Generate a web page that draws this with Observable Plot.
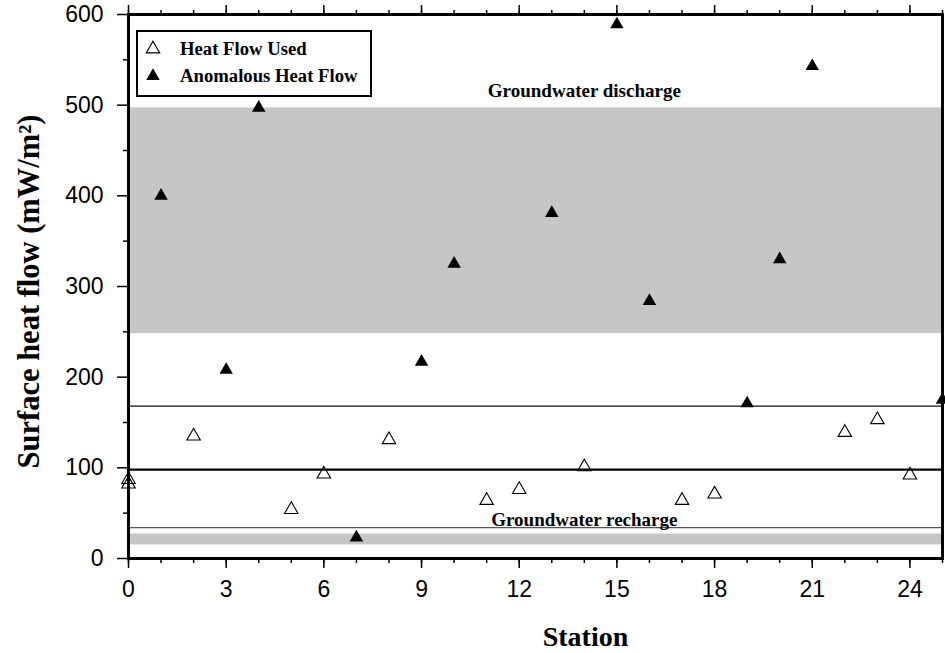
<!DOCTYPE html>
<html>
<head>
<meta charset="utf-8">
<script src="https://cdn.jsdelivr.net/npm/d3@7"></script>
<script src="https://cdn.jsdelivr.net/npm/@observablehq/plot@0.6"></script>
<style>
  html, body { margin: 0; padding: 0; background: #fff; overflow: hidden; }
</style>
</head>
<body>
<div id="chart"></div>
<script>
// Stations whose heat flow was used
const usedStation = [0, 0, 2, 5, 6, 8, 11, 12, 14, 17, 18, 22, 23, 24];
const usedFlow    = [87, 82, 135, 54, 93, 131, 64, 76, 101, 64, 71, 139, 153, 92];

// Stations with anomalous heat flow
const anomStation = [1, 3, 4, 7, 9, 10, 13, 15, 16, 19, 20, 21, 25];
const anomFlow    = [400, 208, 497, 23, 217, 325, 381, 589, 284, 171, 330, 543, 175];

// Shaded ranges (mW/m²)
const dischargeBand = [248, 497];
const rechargeBand  = [15, 27];

// Reference levels (mW/m²): upper bound, mean, lower bound
const upperLevel = 168;
const meanLevel  = 98;
const lowerLevel = 34;

// Axis ticks
const xTickLabels = [0, 3, 6, 9, 12, 15, 18, 21, 24];
const xMinorTicks = d3.range(0, 26, 1);
const yTickLabels = [0, 100, 200, 300, 400, 500, 600];
const yMinorTicks = [50, 150, 250, 350, 450, 550];

const used = usedStation.map((s, i) => ({station: s, flow: usedFlow[i]}));
const anom = anomStation.map((s, i) => ({station: s, flow: anomFlow[i]}));
const bands = [
  {y1: dischargeBand[0], y2: dischargeBand[1]},
  {y1: rechargeBand[0],  y2: rechargeBand[1]}
];

const serif = "'Liberation Serif', 'Times New Roman', serif";
const sans  = "'Liberation Sans', Helvetica, Arial, sans-serif";

const chart = Plot.plot({
  width: 945,
  height: 653,
  marginLeft: 128,
  marginRight: 3,
  marginTop: 14,
  marginBottom: 95,
  style: {fontFamily: sans, background: "#fff", overflow: "hidden"},
  x: {domain: [0, 25]},
  y: {domain: [0, 600]},
  marks: [
    Plot.rect(bands, {x1: 0, x2: 25, y1: "y1", y2: "y2", fill: "#c6c6c6"}),
    Plot.ruleY([upperLevel], {stroke: "#111", strokeWidth: 1.2}),
    Plot.ruleY([meanLevel],  {stroke: "#000", strokeWidth: 2.4}),
    Plot.ruleY([lowerLevel], {stroke: "#555", strokeWidth: 1.2}),
    Plot.text(["Groundwater discharge"], {x: 14, y: 516, text: d => d,
      fontFamily: serif, fontWeight: "bold", fontSize: 19, fill: "#000"}),
    Plot.text(["Groundwater recharge"], {x: 14, y: 43, text: d => d,
      fontFamily: serif, fontWeight: "bold", fontSize: 19, fill: "#000"}),
    Plot.dot(used, {x: "station", y: "flow", symbol: "triangle", r: 5,
      fill: "none", stroke: "#000", strokeWidth: 1.1}),
    Plot.dot(anom, {x: "station", y: "flow", symbol: "triangle", r: 5,
      fill: "#000", stroke: "none"}),
    // bottom axis: labelled major ticks and minor ticks
    Plot.axisX({anchor: "bottom", ticks: xTickLabels, tickSize: 10, tickPadding: 12,
      fontSize: 23, fontFamily: sans, strokeWidth: 1.5, label: null}),
    Plot.axisX({anchor: "bottom", ticks: xMinorTicks, tickSize: 5,
      tickFormat: () => "", strokeWidth: 1.5, label: null}),
    // top axis: ticks only
    Plot.axisX({anchor: "top", ticks: xTickLabels, tickSize: 10,
      tickFormat: () => "", strokeWidth: 1.5, label: null}),
    Plot.axisX({anchor: "top", ticks: xMinorTicks, tickSize: 5,
      tickFormat: () => "", strokeWidth: 1.5, label: null}),
    // left axis
    Plot.axisY({anchor: "left", ticks: yTickLabels, tickSize: 11, tickPadding: 14,
      fontSize: 23, fontFamily: sans, strokeWidth: 1.5, label: null}),
    Plot.axisY({anchor: "left", ticks: yMinorTicks, tickSize: 5,
      tickFormat: () => "", strokeWidth: 1.5, label: null}),
    Plot.frame({stroke: "#000", strokeWidth: 3}),
    // axis titles
    Plot.text(["Surface heat flow (mW/m²)"], {frameAnchor: "left", text: d => d,
      textAnchor: "middle", lineAnchor: "middle",
      rotate: -90, dx: -99, dy: 5, fontFamily: serif, fontWeight: "bold",
      fontSize: 30.5, fill: "#000"}),
    Plot.text(["Station"], {frameAnchor: "bottom", text: d => d,
      textAnchor: "middle", lineAnchor: "middle",
      dx: 50, dy: 79, fontFamily: serif, fontWeight: "bold",
      fontSize: 28, fill: "#000"})
  ]
});

document.getElementById("chart").appendChild(chart);

// Legend box in the upper-left corner of the plot area
const svg = d3.select(chart);
const lg = svg.append("g").attr("transform", "translate(137,31)");
lg.append("rect")
  .attr("width", 234).attr("height", 65)
  .attr("fill", "#fff").attr("stroke", "#000").attr("stroke-width", 2);
const legendItems = [
  {label: "Heat Flow Used", fill: "none", stroke: "#000"},
  {label: "Anomalous Heat Flow", fill: "#000", stroke: "none"}
];
const tri = d3.symbol(d3.symbolTriangle, Math.PI * 25);
legendItems.forEach((item, i) => {
  const cy = 17 + i * 27;
  lg.append("path")
    .attr("d", tri())
    .attr("transform", `translate(16,${cy + 1})`)
    .attr("fill", item.fill)
    .attr("stroke", item.stroke)
    .attr("stroke-width", 1.1);
  lg.append("text")
    .attr("x", 43).attr("y", cy)
    .attr("dy", "0.35em")
    .attr("text-anchor", "start")
    .attr("font-family", serif)
    .attr("font-weight", "bold")
    .attr("font-size", 18.7)
    .attr("fill", "#000")
    .text(item.label);
});
</script>
</body>
</html>
